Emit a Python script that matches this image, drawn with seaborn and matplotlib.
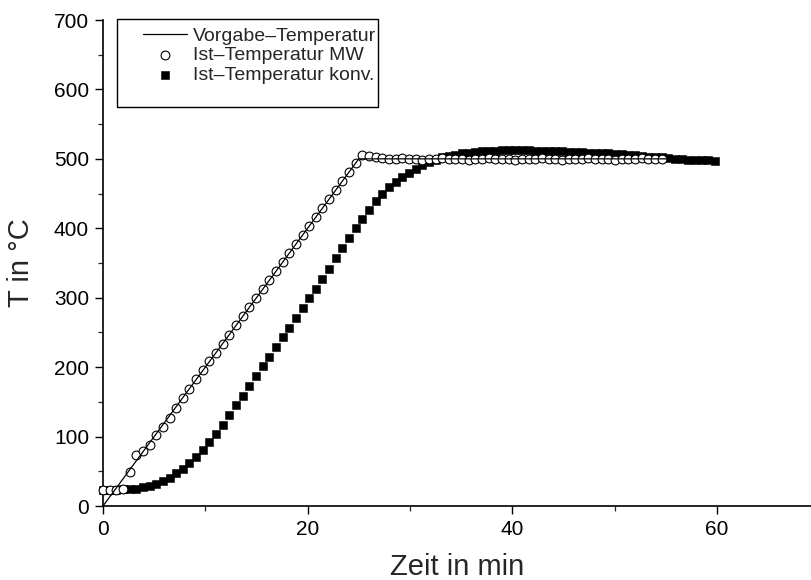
import matplotlib
matplotlib.use("Agg")
import matplotlib.pyplot as plt
from matplotlib.patches import Rectangle
from matplotlib.ticker import MultipleLocator
import seaborn as sns
import pandas as pd

# Sampling times of the logger (min)
zeit_min = [
    0.00, 0.65, 1.30, 1.95, 2.60, 3.25, 3.90, 4.55, 5.20, 5.85,
    6.50, 7.15, 7.80, 8.45, 9.10, 9.75, 10.40, 11.05, 11.70, 12.35,
    13.00, 13.65, 14.30, 14.95, 15.60, 16.25, 16.90, 17.55, 18.20, 18.85,
    19.50, 20.15, 20.80, 21.45, 22.10, 22.75, 23.40, 24.05, 24.70, 25.35,
    26.00, 26.65, 27.30, 27.95, 28.60, 29.25, 29.90, 30.55, 31.20, 31.85,
    32.50, 33.15, 33.80, 34.45, 35.10, 35.75, 36.40, 37.05, 37.70, 38.35,
    39.00, 39.65, 40.30, 40.95, 41.60, 42.25, 42.90, 43.55, 44.20, 44.85,
    45.50, 46.15, 46.80, 47.45, 48.10, 48.75, 49.40, 50.05, 50.70, 51.35,
    52.00, 52.65, 53.30, 53.95, 54.60, 55.25, 55.90, 56.55, 57.20, 57.85,
    58.50, 59.15, 59.80,
]

# Measured temperature, microwave furnace (degC)
temp_mw = [
    23, 23, 23, 24, 49, 73, 79, 88, 102, 114,
    127, 141, 155, 169, 183, 196, 209, 221, 234, 247,
    260, 273, 286, 299, 312, 325, 338, 351, 364, 377,
    390, 403, 416, 429, 442, 455, 468, 481, 494, 505,
    504, 502, 501, 500, 500, 501, 500, 500, 499, 500,
    500, 501, 500, 500, 500, 499, 500, 500, 501, 500,
    500, 500, 499, 500, 500, 500, 501, 500, 500, 499,
    500, 500, 500, 501, 500, 500, 500, 499, 500, 500,
    500, 501, 500, 500, 500,
]

# Measured temperature, conventional furnace (degC)
temp_konv = [
    23, 23, 23, 24, 24, 25, 27, 29, 32, 36,
    41, 47, 54, 62, 71, 81, 92, 104, 117, 131,
    145, 159, 173, 187, 201, 215, 229, 243, 257, 271,
    285, 299, 313, 327, 342, 357, 372, 386, 400, 414,
    427, 439, 450, 459, 467, 474, 480, 486, 491, 495,
    499, 502, 504, 506, 508, 509, 510, 511, 512, 512,
    513, 513, 513, 513, 513, 512, 512, 512, 511, 511,
    510, 510, 510, 509, 509, 508, 508, 507, 507, 506,
    505, 504, 503, 502, 502, 501, 500, 500, 499, 499,
    498, 498, 497,
]

# Set-point program: 20 K/min ramp, then hold at 500 degC
vorgabe_t = [0, 25, 60]
vorgabe_T = [0, 500, 500]

labels = ["Vorgabe\u2013Temperatur", "Ist\u2013Temperatur MW", "Ist\u2013Temperatur konv."]

df_mw = pd.DataFrame({"t": zeit_min[:len(temp_mw)], "T": temp_mw})
df_konv = pd.DataFrame({"t": zeit_min[:len(temp_konv)], "T": temp_konv})
df_soll = pd.DataFrame({"t": vorgabe_t, "T": vorgabe_T})

sns.set_style("ticks")
plt.rcParams["font.family"] = ["Liberation Sans", "DejaVu Sans"]

fig = plt.figure(figsize=(8.11, 5.80), dpi=100)
ax = fig.add_axes([103 / 811, 74 / 580, 708 / 811, 486 / 580])

sns.scatterplot(data=df_konv, x="t", y="T", marker="s", s=26, color="black",
                edgecolor="black", linewidth=0.4, ax=ax, zorder=2,
                clip_on=False, label=labels[2])
sns.scatterplot(data=df_mw, x="t", y="T", marker="o", s=40, facecolor="white",
                edgecolor="black", linewidth=0.8, ax=ax, zorder=3,
                clip_on=False, label=labels[1])
sns.lineplot(data=df_soll, x="t", y="T", color="black", linewidth=0.9,
             ax=ax, zorder=4, label=labels[0])

ax.set_xlim(0, 69.2)
ax.set_ylim(0, 700)
ax.xaxis.set_major_locator(MultipleLocator(20))
ax.xaxis.set_minor_locator(MultipleLocator(10))
ax.yaxis.set_major_locator(MultipleLocator(100))
ax.yaxis.set_minor_locator(MultipleLocator(50))
ax.tick_params(which="major", direction="out", length=6, width=1.0,
               labelsize=15, pad=4, color="black", labelcolor="black")
ax.tick_params(which="minor", direction="out", length=3.5, width=0.9)

for side in ("top", "right"):
    ax.spines[side].set_visible(False)
for side in ("left", "bottom"):
    ax.spines[side].set_linewidth(1.2)
    ax.spines[side].set_color("black")

ax.set_xlabel("Zeit in min", fontsize=21, labelpad=10)
ax.set_ylabel("T in \u00b0C", fontsize=21, labelpad=14)

handles, lbls = ax.get_legend_handles_labels()
order = [lbls.index(l) for l in labels]
ax.legend([handles[i] for i in order], [lbls[i] for i in order],
          loc="upper left", bbox_to_anchor=(0.0565, 0.985),
          frameon=False, borderpad=0, borderaxespad=0,
          handlelength=2.27, handletextpad=0.3, labelspacing=0.1,
          fontsize=14, scatterpoints=1)
ax.add_patch(Rectangle((0.0198, 0.821), 0.368, 0.181, transform=ax.transAxes,
                       fill=False, edgecolor="black", linewidth=1.0,
                       clip_on=False, zorder=6))

fig.savefig("out.png", dpi=100)
